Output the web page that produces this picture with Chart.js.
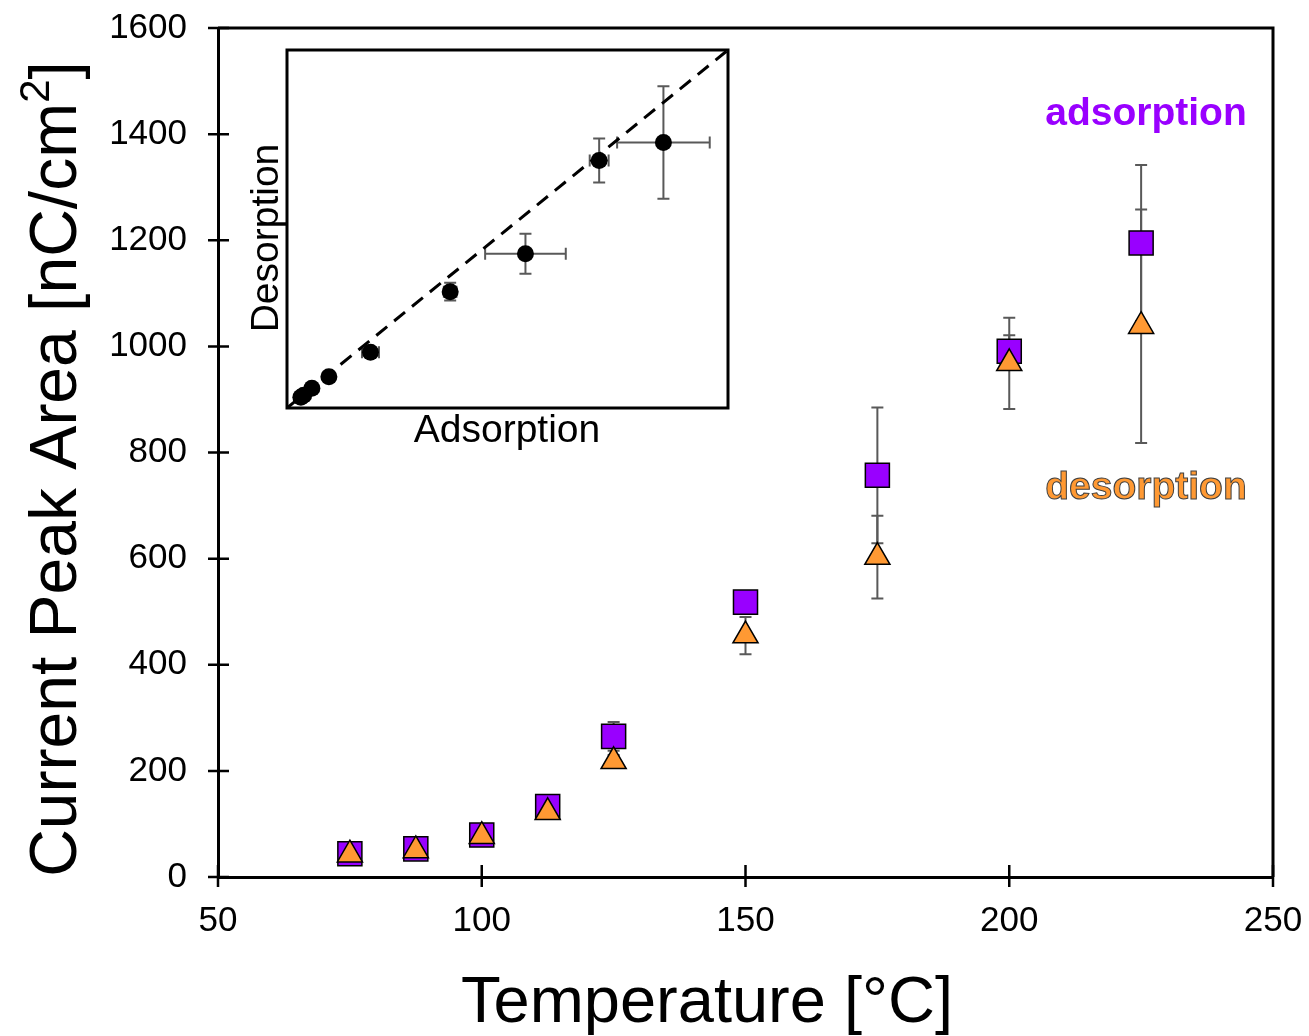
<!DOCTYPE html>
<html>
<head>
<meta charset="utf-8">
<script src="https://cdn.jsdelivr.net/npm/chart.js@4.4.1/dist/chart.umd.min.js"></script>
<style>
  body { margin: 0; background: #fff; }
  #wrap { position: relative; width: 1309px; height: 1036px; }
  #main { position: absolute; left: 0; top: 0; }
  #inset { position: absolute; left: 240px; top: 40px; }
</style>
</head>
<body>
<div id="wrap">
  <canvas id="main" width="1309" height="1036"></canvas>
  <canvas id="inset" width="500" height="420"></canvas>
</div>
<script>
const temps = [75, 87.5, 100, 112.5, 125, 150, 175, 200, 225];
const adsorption = [44, 53, 79, 133, 265, 518, 757, 991, 1195];
const adsorptionErr = [4, 4, 5, 8, 27, 20, 128, 30, 147];
const desorption = [42, 50, 77, 122, 218, 455, 603, 968, 1038];
const desorptionErr = [3, 3, 4, 6, 12, 35, 78, 86, 220];
const xTicks = [50, 100, 150, 200, 250];
const yTicks = [0, 200, 400, 600, 800, 1000, 1200, 1400, 1600];
const insetMin = 0;
const insetMax = 1400;

const FONT = "'Liberation Sans', Arial, sans-serif";
const PURPLE = '#9900ff';
const ORANGE = '#ff9933';
const ERR = '#595959';

function vBar(ctx, x, y1, y2, cap) {
  ctx.beginPath();
  ctx.moveTo(x, y1); ctx.lineTo(x, y2);
  ctx.moveTo(x - cap, y1); ctx.lineTo(x + cap, y1);
  ctx.moveTo(x - cap, y2); ctx.lineTo(x + cap, y2);
  ctx.stroke();
}

function hBar(ctx, y, x1, x2, cap) {
  ctx.beginPath();
  ctx.moveTo(x1, y); ctx.lineTo(x2, y);
  ctx.moveTo(x1, y - cap); ctx.lineTo(x1, y + cap);
  ctx.moveTo(x2, y - cap); ctx.lineTo(x2, y + cap);
  ctx.stroke();
}

const mainDecor = {
  id: 'mainDecor',
  beforeDatasetsDraw(chart) {
    const { ctx, scales: { x, y } } = chart;
    ctx.save();
    ctx.strokeStyle = ERR;
    ctx.lineWidth = 2;
    temps.forEach((t, i) => {
      const px = x.getPixelForValue(t);
      vBar(ctx, px, y.getPixelForValue(adsorption[i] + adsorptionErr[i]),
        y.getPixelForValue(adsorption[i] - adsorptionErr[i]), 6);
      vBar(ctx, px, y.getPixelForValue(desorption[i] + desorptionErr[i]),
        y.getPixelForValue(desorption[i] - desorptionErr[i]), 6);
    });
    ctx.restore();
  },
  afterDraw(chart) {
    const { ctx, chartArea: a, scales: { x, y } } = chart;
    ctx.save();
    ctx.strokeStyle = '#000';
    ctx.lineWidth = 3;
    ctx.beginPath();
    ctx.moveTo(a.left, a.top); ctx.lineTo(a.right, a.top); ctx.lineTo(a.right, a.bottom);
    ctx.stroke();

    // ticks cross the axis lines
    ctx.lineWidth = 2.5;
    ctx.beginPath();
    xTicks.forEach(v => {
      const px = x.getPixelForValue(v);
      ctx.moveTo(px, a.bottom - 12); ctx.lineTo(px, a.bottom + 10);
    });
    yTicks.forEach(v => {
      const py = y.getPixelForValue(v);
      ctx.moveTo(a.left - 10, py); ctx.lineTo(a.left + 11, py);
    });
    ctx.stroke();

    // axis titles
    ctx.fillStyle = '#000';
    ctx.textAlign = 'center';
    ctx.textBaseline = 'alphabetic';
    ctx.font = '65px ' + FONT;
    ctx.fillText('Temperature [°C]', 707, 1022);

    ctx.translate(76, 469);
    ctx.rotate(-Math.PI / 2);
    const big = '66px ' + FONT, small = '42px ' + FONT;
    const parts = [['Current Peak Area [nC/cm', big, 0], ['2', small, -27], [']', big, 0]];
    let w = 0;
    parts.forEach(p => { ctx.font = p[1]; w += ctx.measureText(p[0]).width; });
    let cx = -w / 2;
    ctx.textAlign = 'left';
    parts.forEach(p => {
      ctx.font = p[1];
      ctx.fillText(p[0], cx, p[2]);
      cx += ctx.measureText(p[0]).width;
    });
    ctx.restore();

    // series labels
    ctx.save();
    ctx.textAlign = 'center';
    ctx.font = 'bold 39px ' + FONT;
    ctx.fillStyle = PURPLE;
    ctx.fillText('adsorption', 1146, 125);
    ctx.fillStyle = ORANGE;
    ctx.fillText('desorption', 1146, 499);
    ctx.strokeStyle = '#404040';
    ctx.lineWidth = 1;
    ctx.strokeText('desorption', 1146, 499);
    ctx.restore();
  }
};

new Chart(document.getElementById('main'), {
  type: 'scatter',
  data: {
    datasets: [
      {
        label: 'desorption',
        data: temps.map((t, i) => ({ x: t, y: desorption[i] })),
        pointStyle: 'triangle',
        pointRadius: 14.5,
        backgroundColor: ORANGE,
        borderColor: '#000',
        borderWidth: 1.5,
      },
      {
        label: 'adsorption',
        data: temps.map((t, i) => ({ x: t, y: adsorption[i] })),
        pointStyle: 'rect',
        pointRadius: 17,
        backgroundColor: PURPLE,
        borderColor: '#000',
        borderWidth: 1.5,
      },
    ],
  },
  options: {
    responsive: false,
    animation: false,
    layout: { padding: { left: 0, top: 28, right: 36, bottom: 0 } },
    plugins: { legend: { display: false }, tooltip: { enabled: false } },
    scales: {
      x: {
        type: 'linear',
        min: 50,
        max: 250,
        afterBuildTicks: s => { s.ticks = xTicks.map(v => ({ value: v })); },
        afterFit: s => { s.height = 159; },
        ticks: { color: '#000', font: { family: FONT, size: 35 }, padding: 0, maxRotation: 0,
          callback: v => String(v) },
        // invisible tick marks only set the label gap; visible marks come from the plugin
        grid: { display: true, drawOnChartArea: false, drawTicks: true, tickLength: 23, color: 'rgba(0,0,0,0)' },
        border: { color: '#000', width: 3 },
      },
      y: {
        type: 'linear',
        min: 0,
        max: 1600,
        afterBuildTicks: s => { s.ticks = yTicks.map(v => ({ value: v })); },
        afterFit: s => { s.width = 218; },
        ticks: { color: '#000', font: { family: FONT, size: 35 }, padding: 0,
          callback: v => String(v) },
        grid: { display: true, drawOnChartArea: false, drawTicks: true, tickLength: 31, color: 'rgba(0,0,0,0)' },
        border: { color: '#000', width: 3 },
      },
    },
  },
  plugins: [mainDecor],
});

const insetDecor = {
  id: 'insetDecor',
  beforeDatasetsDraw(chart) {
    const { ctx, chartArea: a, scales: { x, y } } = chart;
    ctx.save();
    ctx.fillStyle = '#fff';
    ctx.fillRect(a.left, a.top, a.width, a.height);
    ctx.strokeStyle = ERR;
    ctx.lineWidth = 2;
    temps.forEach((t, i) => {
      const px = x.getPixelForValue(adsorption[i]);
      const py = y.getPixelForValue(desorption[i]);
      vBar(ctx, px, y.getPixelForValue(desorption[i] + desorptionErr[i]),
        y.getPixelForValue(desorption[i] - desorptionErr[i]), 6);
      hBar(ctx, py, x.getPixelForValue(adsorption[i] - adsorptionErr[i]),
        x.getPixelForValue(adsorption[i] + adsorptionErr[i]), 6);
    });
    ctx.restore();
  },
  afterDraw(chart) {
    const { ctx, chartArea: a } = chart;
    ctx.save();
    ctx.strokeStyle = '#000';
    ctx.lineWidth = 3;
    ctx.strokeRect(a.left, a.top, a.width, a.height);
    ctx.fillStyle = '#000';
    ctx.font = '39px ' + FONT;
    ctx.textAlign = 'center';
    ctx.textBaseline = 'alphabetic';
    ctx.fillText('Adsorption', 267, 402);
    ctx.translate(38, 198);
    ctx.rotate(-Math.PI / 2);
    ctx.fillText('Desorption', 0, 0);
    ctx.restore();
  }
};

new Chart(document.getElementById('inset'), {
  type: 'scatter',
  data: {
    datasets: [
      {
        label: 'pairs',
        data: temps.map((t, i) => ({ x: adsorption[i], y: desorption[i] })),
        pointStyle: 'circle',
        pointRadius: 8.5,
        backgroundColor: '#000',
        borderColor: '#000',
        borderWidth: 0,
      },
      {
        type: 'line',
        label: 'parity',
        data: [{ x: insetMin, y: insetMin }, { x: insetMax, y: insetMax }],
        borderColor: '#000',
        borderWidth: 3,
        borderDash: [14, 9],
        pointRadius: 0,
        fill: false,
      },
    ],
  },
  options: {
    responsive: false,
    animation: false,
    layout: { padding: { left: 47, top: 10, right: 12, bottom: 52 } },
    plugins: { legend: { display: false }, tooltip: { enabled: false } },
    scales: {
      x: { type: 'linear', min: insetMin, max: insetMax, display: false },
      y: { type: 'linear', min: insetMin, max: insetMax, display: false },
    },
  },
  plugins: [insetDecor],
});
</script>
</body>
</html>
